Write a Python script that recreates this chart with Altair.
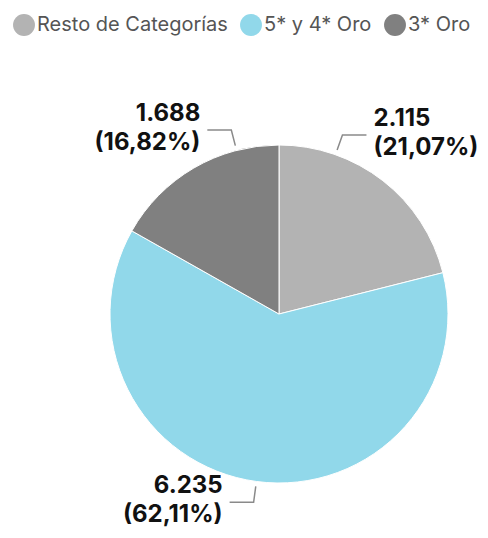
import math
import altair as alt
import pandas as pd

# ---- data ----
categories = ["Resto de Categorías", "5* y 4* Oro", "3* Oro"]
values = [2115, 6235, 1688]
value_labels = ["2.115", "6.235", "1.688"]
pct_labels = ["(21,07%)", "(62,11%)", "(16,82%)"]
colors = ["#b3b3b3", "#91d8ea", "#808080"]

# ---- layout constants ----
W, H = 472, 522
CX, CY = 271, 306          # pie centre (plot coords)
R = 169                    # pie radius
R_START, R_ELBOW = 174, 190
LEADER, GAP = 24, 7
PULL = math.radians(33.5)  # pulls labels near the top toward 12 o'clock
LINE_H = 29

df = pd.DataFrame({"category": categories, "value": values, "idx": range(len(values))})
total = sum(values)
cum = 0
rows_line, rows_text = [], []
for i, (c, v) in enumerate(zip(categories, values)):
    mid = (cum + v / 2) / total * 2 * math.pi
    cum += v
    a = mid - PULL * math.sin(mid) * (1 + math.cos(mid)) / 2
    sx, sy = CX + R_START * math.sin(a), CY - R_START * math.cos(a)
    ex, ey = CX + R_ELBOW * math.sin(a), CY - R_ELBOW * math.cos(a)
    side = 1 if math.sin(a) > 0 else -1
    hx = ex + side * LEADER
    for k, (px, py) in enumerate([(sx, sy), (ex, ey), (hx, ey)]):
        rows_line.append({"category": c, "pt": k, "px": px, "py": py})
    rows_text.append({"category": c, "side": "right" if side > 0 else "left",
                      "tx": hx + side * GAP, "ty": ey - 16,
                      "label": value_labels[i] + "\n" + pct_labels[i]})

lines_df = pd.DataFrame(rows_line)
text_df = pd.DataFrame(rows_text)

color_scale = alt.Scale(domain=categories, range=colors)

pie = alt.Chart(df).mark_arc(outerRadius=R, stroke="white", strokeWidth=1).encode(
    theta=alt.Theta("value:Q", stack=True),
    order=alt.Order("idx:Q"),
    color=alt.Color(
        "category:N", scale=color_scale, sort=categories,
        legend=alt.Legend(
            orient="none", legendX=5, legendY=6, direction="horizontal", title=None,
            symbolType="circle", symbolSize=480, symbolStrokeWidth=0,
            labelFont="Inter", labelFontSize=20, labelColor="#555555",
            labelOffset=2, columnPadding=12, labelLimit=400,
        ),
    ),
    x=alt.value(CX),
    y=alt.value(CY),
)

leaders = alt.Chart(lines_df).mark_line(color="#8a8a8a", strokeWidth=1.5).encode(
    x=alt.X("px:Q", scale=None, axis=None),
    y=alt.Y("py:Q", scale=None, axis=None),
    detail="category:N",
    order="pt:Q",
)

def text_layer(side, align):
    return alt.Chart(text_df).transform_filter(alt.datum.side == side).mark_text(
        font="Inter", fontSize=24, fontWeight="bold", color="#111111",
        align=align, baseline="middle", lineBreak="\n", lineHeight=LINE_H,
    ).encode(
        x=alt.X("tx:Q", scale=None, axis=None),
        y=alt.Y("ty:Q", scale=None, axis=None),
        text="label:N",
    )

chart = alt.layer(pie, leaders, text_layer("right", "left"), text_layer("left", "right")).properties(
    width=W, height=H, padding=0, autosize=alt.AutoSizeParams(type="none"),
).configure_view(stroke=None)

chart.save("out.html", embed_options={"renderer": "svg", "actions": False})
